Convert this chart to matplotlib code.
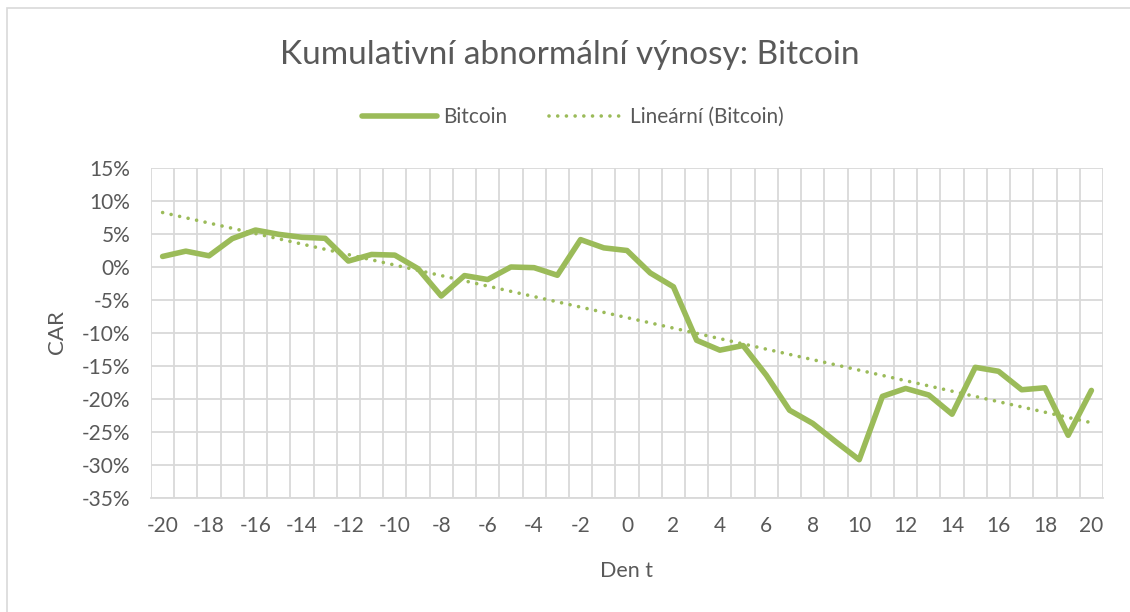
import matplotlib.pyplot as plt
import matplotlib.patches as mpatches
import numpy as np
from matplotlib.ticker import FuncFormatter, FixedLocator

days = list(range(-20, 21))
car = [1.6, 2.4, 1.7, 4.3, 5.6, 4.95, 4.5, 4.35, 0.9, 1.9, 1.8, -0.25, -4.4,
       -1.3, -1.9, 0.0, -0.1, -1.25, 4.15, 2.9, 2.5, -0.9, -3.0, -11.1, -12.6,
       -11.9, -16.4, -21.7, -23.7, -26.5, -29.2, -19.6, -18.4, -19.4, -22.3,
       -15.2, -15.8, -18.6, -18.3, -25.5, -18.7]
tick_days = list(range(-20, 21, 2))
y_ticks = list(range(-35, 20, 5))

green = "#9BBB59"
grey_text = "#595959"
grid = "#D9D9D9"

plt.rcParams["font.family"] = ["Lato", "DejaVu Sans"]

fig = plt.figure(figsize=(11.3, 6.12), dpi=100)
# chart area border (right and bottom edges fall outside the image)
fig.patches.append(mpatches.Rectangle((7 / 1130, -0.1), 1.2, 1.1 - 8 / 612,
                                      transform=fig.transFigure, fill=False,
                                      edgecolor="#D9D9D9", linewidth=1.2))
ax = fig.add_axes([151 / 1130, 1 - 498 / 612, (1103 - 151) / 1130, (498 - 168) / 612])

x = np.array(days)
y = np.array(car)
slope, intercept = np.polyfit(x, y, 1)

ax.plot(x, y, color=green, linewidth=4.0, solid_joinstyle="round", solid_capstyle="round",
        label="Bitcoin", zorder=3)
ax.plot(x, slope * x + intercept, color=green, linewidth=2.6, linestyle=(0, (0.01, 2.4)),
        dash_capstyle="round", label="Lineární (Bitcoin)", zorder=3)

ax.set_xlim(-20.5, 20.5)
ax.set_ylim(-35, 15)
ax.set_yticks(y_ticks)
ax.yaxis.set_major_formatter(FuncFormatter(lambda v, p: f"{int(v)}%"))
ax.set_xticks(tick_days)
ax.set_xticklabels([str(d) for d in tick_days])
ax.xaxis.set_minor_locator(FixedLocator(np.arange(-20.5, 21, 1)))
ax.grid(True, which="minor", axis="x", color=grid, linewidth=1.3)
ax.grid(True, which="major", axis="y", color=grid, linewidth=1.3)
ax.set_axisbelow(True)
for s in ["top", "right", "left"]:
    ax.spines[s].set_visible(False)
ax.spines["bottom"].set_color(grid)
ax.spines["bottom"].set_linewidth(1.3)
ax.tick_params(which="both", length=0, labelsize=15, colors=grey_text)
ax.tick_params(axis="x", pad=13)
ax.tick_params(axis="y", pad=15)

fig.text(627 / 1130, 1 - 576.7 / 612, "Den t", ha="center", va="baseline",
         fontsize=15.5, color=grey_text)
fig.text(57 / 1130, 1 - 332 / 612, "CAR", ha="center", va="center", rotation=90,
         fontsize=16, color=grey_text)

fig.text(570 / 1130, 1 - 64.3 / 612, "Kumulativní abnormální výnosy: Bitcoin",
         ha="center", va="baseline", fontsize=24, color=grey_text)
fig.legend(loc="center", bbox_to_anchor=(573 / 1130, 1 - 117 / 612), ncol=2, frameon=False,
           fontsize=15, labelcolor=grey_text, handlelength=3.6, handletextpad=0.3,
           columnspacing=2.0)

fig.savefig("out.png", dpi=100)
